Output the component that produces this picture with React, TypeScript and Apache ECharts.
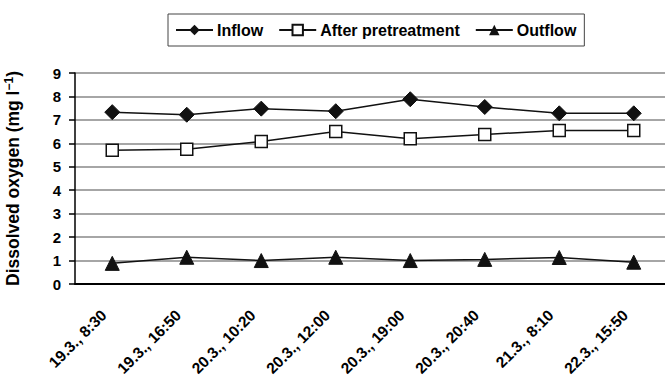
import React, { useEffect, useRef } from "react";
import * as echarts from "echarts";

const categories = [
  "19.3., 8:30",
  "19.3., 16:50",
  "20.3., 10:20",
  "20.3., 12:00",
  "20.3., 19:00",
  "20.3., 20:40",
  "21.3., 8:10",
  "22.3., 15:50",
];
const inflow = [7.33, 7.22, 7.48, 7.37, 7.88, 7.55, 7.28, 7.28];
const afterPretreatment = [5.7, 5.75, 6.08, 6.5, 6.2, 6.38, 6.55, 6.55];
const outflow = [0.88, 1.14, 1.0, 1.14, 1.0, 1.05, 1.13, 0.93];
const yTicks = { min: 0, max: 9, interval: 1 };

const FONT = '"Liberation Sans", Arial, Helvetica, sans-serif';

export default function App() {
  const ref = useRef<HTMLDivElement>(null);
  useEffect(() => {
    if (!ref.current) return;
    const chart = echarts.init(ref.current, null, { renderer: "svg" });
    const lineStyle = { color: "#111", width: 1.5 };
    chart.setOption({
      animation: false,
      backgroundColor: "#fff",
      textStyle: { fontFamily: FONT, color: "#000", fontWeight: "bold" },
      legend: {
        top: 14,
        left: 168,
        orient: "horizontal",
        padding: [8, 8, 8, 7],
        borderColor: "#444",
        borderWidth: 1,
        itemWidth: 37,
        itemHeight: 13,
        itemGap: 15,
        textStyle: { fontFamily: FONT, fontSize: 16, fontWeight: "bold", color: "#000", padding: [0, 0, 0, -1] },
        data: [
          { name: "Inflow" },
          { name: "After pretreatment" },
          { name: "Outflow" },
        ],
      },
      grid: { left: 75, top: 73, bottom: 94, right: -6, containLabel: false, outerBoundsMode: "none" },
      xAxis: {
        type: "category",
        data: categories,
        boundaryGap: true,
        axisLine: { lineStyle: { color: "#000", width: 2 } },
        axisTick: { show: false },
        axisLabel: {
          rotate: 45,
          margin: 20,
          padding: [0, 12, 0, 0],
          interval: 0,
          fontFamily: FONT,
          fontSize: 15.5,
          fontWeight: "bold",
          color: "#000",
        },
        splitLine: { show: false },
      },
      yAxis: {
        type: "value",
        min: yTicks.min,
        max: yTicks.max,
        interval: yTicks.interval,
        name: "{a|Dissolved oxygen (mg l}{s|−1}{a|)}",
        nameLocation: "middle",
        nameGap: 52,
        nameTextStyle: {
          rich: {
            a: { fontFamily: FONT, fontSize: 17.5, fontWeight: "bold", color: "#000" },
            s: { fontFamily: FONT, fontSize: 12, fontWeight: "bold", color: "#000", verticalAlign: "bottom", padding: [0, 0, 8, 0] },
          },
        },
        axisLine: { show: true, lineStyle: { color: "#000", width: 1.5 } },
        axisTick: { show: true, length: 6, inside: false, lineStyle: { color: "#000", width: 1.5 } },
        axisLabel: { margin: 14, fontFamily: FONT, fontSize: 15, fontWeight: "bold", color: "#000" },
        splitLine: { show: true, lineStyle: { color: "#888", width: 1.5 } },
      },
      series: [
        {
          name: "Inflow",
          type: "line",
          data: inflow,
          symbol: "diamond",
          symbolSize: 15,
          lineStyle,
          itemStyle: { color: "#111", borderColor: "#111" },
        },
        {
          name: "After pretreatment",
          type: "line",
          data: afterPretreatment,
          symbol: "rect",
          symbolSize: 12,
          showAllSymbol: true,
          lineStyle,
          itemStyle: { color: "#fff", borderColor: "#111", borderWidth: 1.5 },
        },
        {
          name: "Outflow",
          type: "line",
          data: outflow,
          symbol: "triangle",
          symbolSize: 14,
          lineStyle,
          itemStyle: { color: "#111", borderColor: "#111" },
        },
      ],
    });
    return () => chart.dispose();
  }, []);
  return (
    <div
      ref={ref}
      style={{ position: "fixed", left: 0, top: 0, width: 665, height: 378, background: "#fff" }}
    />
  );
}
